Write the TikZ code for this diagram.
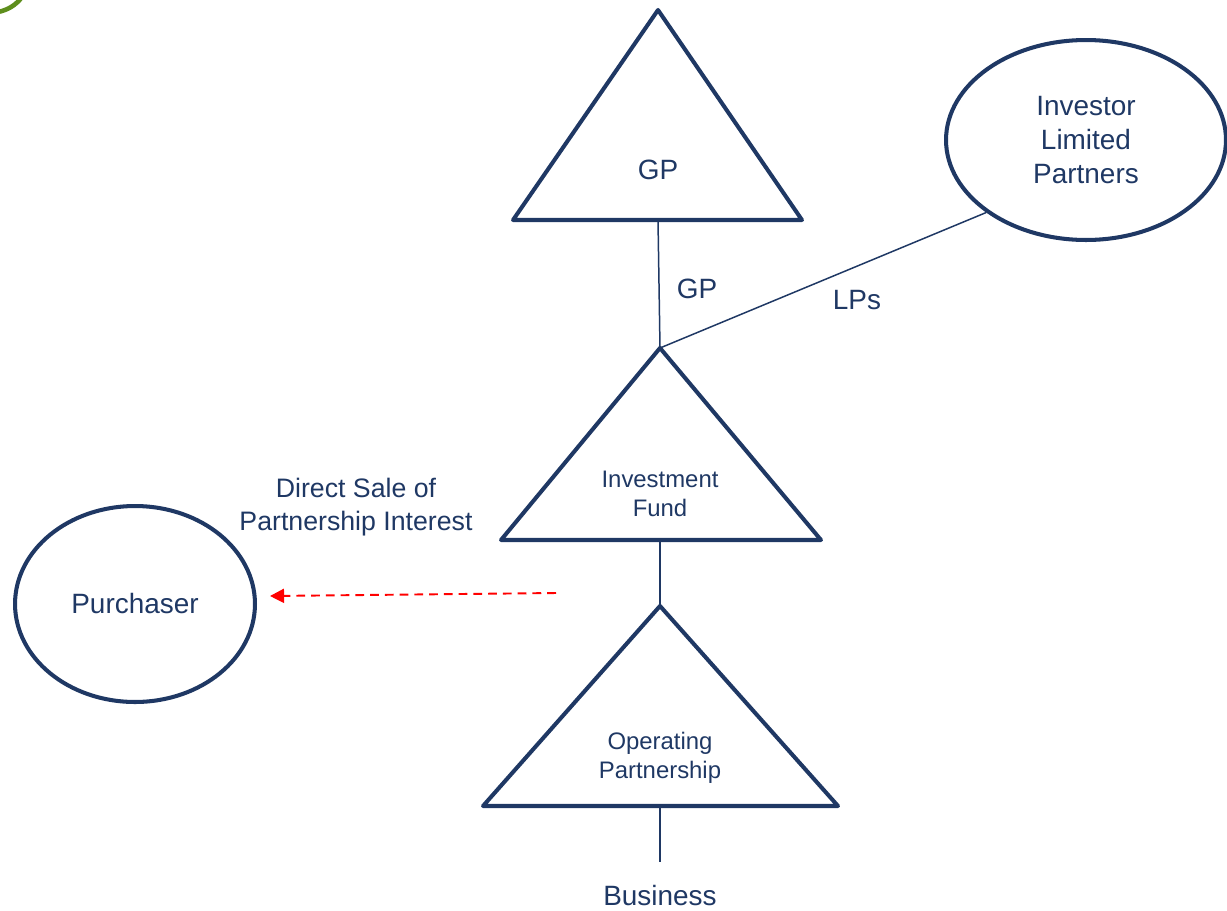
\documentclass[tikz,border=0pt]{standalone}
\usepackage{fontspec}
\setmainfont{Liberation Sans}
\usetikzlibrary{shapes.geometric, arrows.meta}
\definecolor{navy}{HTML}{1F3864}
\definecolor{leaf}{HTML}{5E8E1C}

\begin{document}
\begin{tikzpicture}[x=0.02cm, y=-0.02cm,
  tri/.style={draw=navy, line width=2.3pt, line join=round},
  link/.style={draw=navy, line width=0.85pt},
  party/.style={draw=navy, line width=2.3pt, ellipse, inner sep=0pt, align=center,
                text=navy, font=\fontsize{15.9}{19.3}\selectfont},
  lbl/.style={text=navy, inner sep=0pt, align=center, font=\fontsize{15.9}{19.3}\selectfont},
  small/.style={text=navy, inner sep=0pt, align=center, font=\fontsize{13.6}{16.4}\selectfont},
  sale/.style={draw=red, line width=1.1pt, dash pattern=on 5pt off 3.4pt,
               -{Triangle[length=8pt, width=8pt]}}
]
\useasboundingbox (0,0) rectangle (1227,910);
\draw[leaf, line width=2.6pt] (-2,12) .. controls (8,10) and (16,5) .. (22,-3);

\coordinate (gptop) at (658,10);
\coordinate (gpbl) at (513,220);
\coordinate (gpbr) at (802,220);
\coordinate (gpbot) at (658,220);
\coordinate (iftop) at (660,348);
\coordinate (ifbl) at (501,540);
\coordinate (ifbr) at (821,540);
\coordinate (ifbot) at (660,540);
\coordinate (optop) at (660,606);
\coordinate (opbl) at (483,806);
\coordinate (opbr) at (838,806);
\coordinate (opbot) at (660,806);
\coordinate (bizend) at (660,862);

\draw[tri] (gptop) -- (gpbr) -- (gpbl) -- cycle;
\draw[tri] (iftop) -- (ifbr) -- (ifbl) -- cycle;
\draw[tri] (optop) -- (opbr) -- (opbl) -- cycle;

\node[lbl] (gp) at (658,170) {GP};
\node[small] (fund) at (660,494) {Investment\\Fund};
\node[small] (oper) at (660,758) {Operating\\Partnership};

\node[party, minimum width=5.6cm, minimum height=4cm] (lp) at (1086,140) {Investor\\Limited\\Partners};
\node[party, minimum width=4.8cm, minimum height=3.92cm] (pur) at (135,604) {Purchaser};

\draw[link] (gpbot) -- (iftop);
\draw[link] (iftop) -- (lp.216);
\draw[link] (ifbot) -- (optop);
\draw[link] (opbot) -- (bizend);

\node[lbl] (gplink) at (697,289) {GP};
\node[lbl] (lplink) at (857,300) {LPs};
\node[lbl, anchor=north] (biz) at (660,885) {Business};
\node[lbl, font=\fontsize{15.2}{18.8}\selectfont] (direct) at (356,507) {Direct Sale of\\Partnership Interest};

\coordinate (salestart) at (556,593);
\coordinate (saletip) at (270,596);
\draw[sale] (salestart) -- (saletip);
\end{tikzpicture}
\end{document}
